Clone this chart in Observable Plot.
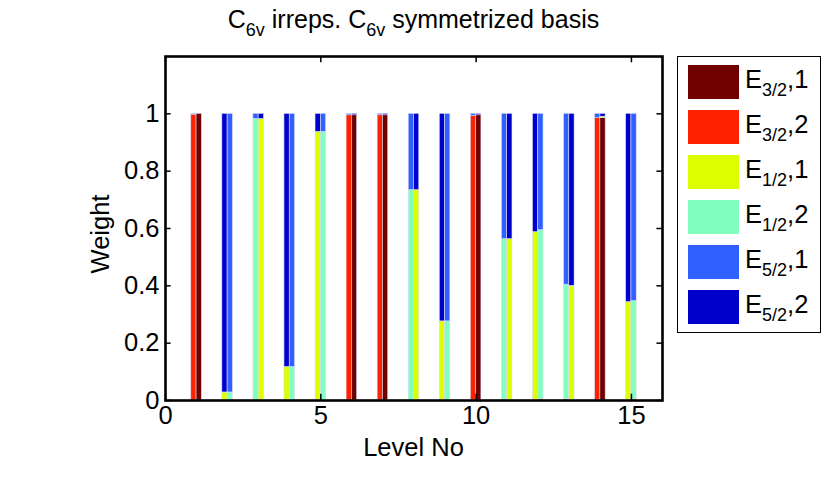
<!DOCTYPE html>
<html>
<head>
<meta charset="utf-8">
<script src="https://cdn.jsdelivr.net/npm/d3@7"></script>
<script src="https://cdn.jsdelivr.net/npm/@observablehq/plot@0.6"></script>
<style>
  html, body { margin: 0; padding: 0; background: #fff; }
  #wrap { position: relative; width: 830px; height: 489px; font-family: "Liberation Sans", Arial, sans-serif; color: #000; }
  #wrap svg { position: absolute; left: 0; top: 0; }
  .title { position: absolute; left: 0; top: 4px; width: 827px; text-align: center; font-size: 25px; line-height: 30px; }
  .title sub, .leg sub { font-size: 18px; vertical-align: -8px; line-height: 0; }
  .xlab { position: absolute; left: 0; width: 827px; top: 433px; text-align: center; font-size: 25.5px; }
  .ylab { position: absolute; left: 100px; top: 234px; font-size: 25.5px; transform: translate(-50%, -50%) rotate(-90deg); white-space: nowrap; }
  .legend { position: absolute; left: 677px; top: 56px; width: 142px; height: 275px; border: 1.6px solid #000; background: #fff; }
  .row { position: absolute; left: 10px; height: 34px; }
  .sw { position: absolute; left: 0; top: 0; width: 51px; height: 34px; }
  .leg { position: absolute; left: 57px; top: -1px; font-size: 25.5px; line-height: 30px; white-space: nowrap; }
</style>
</head>
<body>
<div id="wrap"></div>
<script>
// ---- data ----
const levels = [1,2,3,4,5,6,7,8,9,10,11,12,13,14,15];
const irreps = ["E3/2,1","E3/2,2","E1/2,1","E1/2,2","E5/2,1","E5/2,2"];
const irrepSub = ["3/2","3/2","1/2","1/2","5/2","5/2"];
const irrepIdx = ["1","2","1","2","1","2"];
const colors = ["#700000","#ff2200","#ddff00","#80ffbf","#3060ff","#0000cc"];
// weights of first state (left bar) for each level, order = irreps
const weightsA = [
  [0,0.997,0,0,0.003,0],
  [0,0,0.028,0,0,0.972],
  [0,0,0,0.982,0.018,0],
  [0,0,0.117,0,0,0.883],
  [0,0,0.937,0,0,0.063],
  [0,0.995,0,0,0.005,0],
  [0,0.995,0,0,0.005,0],
  [0,0,0,0.734,0.266,0],
  [0,0,0.276,0,0,0.724],
  [0,0.993,0,0,0.007,0],
  [0.003,0,0,0.560,0.437,0],
  [0,0,0.587,0,0,0.413],
  [0,0.004,0,0.400,0.596,0],
  [0,0.985,0,0,0.015,0],
  [0,0,0.343,0,0,0.657]
];
// weights of second state (right bar)
const weightsB = [
  [1,0,0,0,0,0],
  [0,0,0,0.028,0.972,0],
  [0,0,0.982,0,0,0.018],
  [0,0,0,0.117,0.883,0],
  [0,0,0,0.937,0.063,0],
  [0.995,0,0,0,0,0.005],
  [0.995,0,0,0,0,0.005],
  [0,0,0.734,0,0,0.266],
  [0,0,0,0.276,0.724,0],
  [0.995,0,0,0,0,0.005],
  [0,0,0.563,0,0,0.437],
  [0,0.004,0,0.590,0.406,0],
  [0,0,0.400,0,0,0.600],
  [0.985,0,0.005,0,0,0.010],
  [0,0.004,0,0.343,0.653,0]
];
const xTicks = [0,5,10,15];
const yTicks = [0,0.2,0.4,0.6,0.8,1];

// ---- build stacked rows ----
const rows = [];
levels.forEach((lv, i) => {
  [weightsA[i], weightsB[i]].forEach((w, s) => {
    let acc = 0;
    w.forEach((v, k) => {
      if (v > 0) rows.push({level: lv, state: s, irrep: irreps[k], y1: acc, y2: acc + v});
      acc += v;
    });
  });
});

const half = 0.17;
const plot = Plot.plot({
  width: 830,
  height: 489,
  marginLeft: 165,
  marginRight: 168,
  marginTop: 56,
  marginBottom: 89,
  style: {fontFamily: "'Liberation Sans', Arial, sans-serif", fontSize: "25.5px", color: "#000", background: "transparent", overflow: "visible"},
  x: {domain: [0, 16]},
  y: {domain: [0, 1.2]},
  color: {domain: irreps, range: colors},
  marks: [
    Plot.rect(rows, {
      x1: d => d.level + (d.state ? 0 : -half),
      x2: d => d.level + (d.state ? half : 0),
      y1: "y1", y2: "y2",
      fill: "irrep",
      stroke: "#dcdcf4", strokeWidth: 0.6
    }),
    Plot.ruleX(xTicks, {x: d => d, y1: 0, y2: 0.022, stroke: "#000", strokeWidth: 1.5}),
    Plot.ruleX(xTicks, {x: d => d, y1: 1.2, y2: 1.178, stroke: "#000", strokeWidth: 1.5}),
    Plot.ruleY(yTicks, {y: d => d, x1: 0, x2: 0.18, stroke: "#000", strokeWidth: 1.5}),
    Plot.ruleY(yTicks, {y: d => d, x1: 16, x2: 15.82, stroke: "#000", strokeWidth: 1.5}),
    Plot.axisX({ticks: xTicks, tickSize: 0, tickPadding: 5, label: null, tickFormat: d => String(d)}),
    Plot.axisY({ticks: yTicks, tickSize: 0, tickPadding: 6, label: null, tickFormat: d => String(d)}),
    Plot.frame({stroke: "#000", strokeWidth: 2.6})
  ]
});

const wrap = document.getElementById("wrap");
wrap.appendChild(plot);

const title = document.createElement("div");
title.className = "title";
title.innerHTML = "C<sub>6v</sub> irreps. C<sub>6v</sub> symmetrized basis";
wrap.appendChild(title);

const xl = document.createElement("div");
xl.className = "xlab"; xl.textContent = "Level No";
wrap.appendChild(xl);

const yl = document.createElement("div");
yl.className = "ylab"; yl.textContent = "Weight";
wrap.appendChild(yl);

const leg = document.createElement("div");
leg.className = "legend";
irreps.forEach((name, k) => {
  const r = document.createElement("div");
  r.className = "row";
  r.style.top = (8 + k * 45) + "px";
  r.innerHTML = `<div class="sw" style="background:${colors[k]}"></div><div class="leg">E<sub>${irrepSub[k]}</sub>,${irrepIdx[k]}</div>`;
  leg.appendChild(r);
});
wrap.appendChild(leg);
</script>
</body>
</html>
